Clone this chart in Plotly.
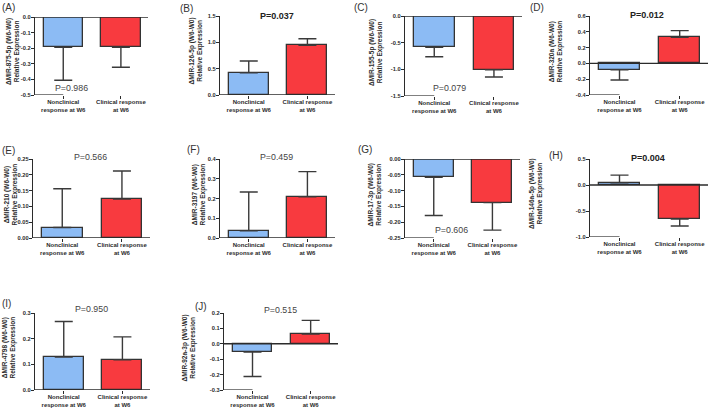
import plotly.graph_objects as go

W, H = 709, 408

panel_letters = ["(A)", "(B)", "(C)", "(D)", "(E)", "(F)", "(G)", "(H)", "(I)", "(J)"]
mirnas = ["MIR-875-5p", "MIR-126-5p", "MIR-155-5p", "MIR-320a", "MIR-210",
          "MIR-3197", "MIR-17-3p", "MIR-146a-5p", "MIR-4798", "MIR-92a-3p"]
group_labels = ["Nonclinical<br>response at W6", "Clinical response<br>at W6"]
nonclin_mean = [-0.195, 0.423, -0.587, -0.08, 0.033, 0.036, -0.058, 0.044, 0.128, -0.053]
nonclin_err = [0.21, 0.223, 0.176, 0.13, 0.123, 0.197, 0.121, 0.146, 0.139, 0.159]
clin_mean = [-0.194, 0.944, -1.007, 0.33, 0.123, 0.209, -0.138, -0.654, 0.118, 0.063]
clin_err = [0.128, 0.125, 0.137, 0.085, 0.089, 0.127, 0.087, 0.134, 0.089, 0.089]
p_texts = ["P=0.986", "P=0.037", "P=0.079", "P=0.012", "P=0.566",
           "P=0.459", "P=0.606", "P=0.004", "P=0.950", "P=0.515"]
p_bold = [False, True, False, True, False, False, False, True, False, False]
y_ranges = [(-0.5, 0), (0, 1.5), (-1.5, 0), (-0.4, 0.6), (0, 0.25),
            (0, 0.4), (-0.25, 0), (-1.0, 0.5), (0, 0.3), (-0.3, 0.2)]
y_steps = [0.1, 0.5, 0.5, 0.2, 0.05, 0.1, 0.05, 0.5, 0.1, 0.1]
y_decimals = [1, 1, 1, 1, 2, 1, 2, 1, 1, 1]

# layout (pixel boxes: x0, x1, ytop, ybot)
boxes = [(35, 148, 17, 95), (220, 335, 16, 95), (405, 522, 16, 96), (590, 708, 16, 95),
         (33, 150, 159, 238), (220, 335, 159, 238), (405, 520, 159, 238), (590, 708, 159, 237),
         (35, 150, 313, 390), (224, 338, 313, 390)]
# y-axis title block centers (pixels)
title_x = [13, 195, 376, 555, 10, 198, 374, 536, 8, 188]
# p-value annotation positions (x in category units, y in pixel)
p_pos = [(0.15, 88), (0.48, 16), (0.25, 88), (0.45, 15), (0.48, 157),
         (0.48, 157), (0.3, 230), (0.48, 158), (0.48, 309), (0.48, 310)]
letter_pos = [(0, 7), (178, 8), (352, 7), (528, 7), (0, 150), (185, 149),
              (356, 149), (547, 155), (0, 303), (193, 306)]

BLUE = "#8CBBF4"
RED = "#F83A3F"
DARK = "#2b2b2b"
FONT = "Liberation Sans, Arial, sans-serif"
XR = (-0.49, 1.47)

fig = go.Figure()
layout = dict(width=W, height=H, margin=dict(l=0, r=0, t=0, b=0, autoexpand=False),
              paper_bgcolor="white", plot_bgcolor="white", showlegend=False,
              font=dict(family=FONT, color=DARK), bargap=0)
shapes = []
annotations = []

def fmt(v, d):
    s = f"{v:.{d}f}"
    if s.startswith("-") and float(s) == 0:
        s = s[1:]
    return s

for i in range(10):
    k = "" if i == 0 else str(i + 1)
    xa, ya = "x" + k, "y" + k
    x0, x1, yt, yb = boxes[i]
    lo, hi = y_ranges[i]
    means = [nonclin_mean[i], clin_mean[i]]
    errs = [nonclin_err[i], clin_err[i]]
    plus = [e if m >= 0 else 0 for m, e in zip(means, errs)]
    minus = [e if m < 0 else 0 for m, e in zip(means, errs)]
    fig.add_trace(go.Bar(
        x=[0, 1], y=means, xaxis=xa, yaxis=ya, width=0.68,
        marker=dict(color=[BLUE, RED], line=dict(color="#333333", width=1.3)),
        error_y=dict(type="data", symmetric=False, array=plus, arrayminus=minus,
                     color="#3a3a3a", thickness=1.4, width=9),
        hoverinfo="skip"))
    n = int(round((hi - lo) / y_steps[i]))
    tv = [lo + j * y_steps[i] for j in range(n + 1)]
    tt = [fmt(v, y_decimals[i]) for v in tv]
    layout["xaxis" + k] = dict(
        domain=[x0 / W, x1 / W], anchor=ya, range=list(XR), tickvals=[0, 1],
        ticktext=group_labels, ticks="outside", ticklen=3, tickwidth=1.2,
        tickcolor=DARK, showline=False, showgrid=False, zeroline=False,
        tickangle=0, automargin=False, ticklabelstandoff=-2,
        tickfont=dict(size=6, weight="bold", family=FONT, color=DARK), fixedrange=True)
    layout["yaxis" + k] = dict(
        domain=[1 - yb / H, 1 - yt / H], anchor=xa, range=[lo, hi],
        tickvals=tv, ticktext=tt, ticks="outside", ticklen=3, tickwidth=1.2,
        tickcolor=DARK, showline=True, linecolor=DARK, linewidth=1.4,
        showgrid=False, zeroline=False, automargin=False, ticklabelstandoff=-1,
        tickfont=dict(size=5.7, weight="bold", family=FONT, color=DARK),
        fixedrange=True)
    # y-axis title as rotated annotation
    annotations.append(dict(
        xref="paper", yref="paper", x=title_x[i] / W, y=1 - ((yt + yb) / 2 - 4) / H,
        text="\u0394" + mirnas[i] + " (W6-W0)<br>Relative Expression", textangle=-90,
        showarrow=False, xanchor="center", yanchor="middle",
        font=dict(size=6.5, weight="bold", family=FONT, color=DARK)))
    # zero line across full width
    shapes.append(dict(type="line", xref=xa, yref=ya, x0=XR[0], x1=XR[1], y0=0, y1=0,
                       line=dict(color=DARK, width=1.4), layer="above"))
    if lo < 0:
        shapes.append(dict(type="line", xref=xa, yref=ya, x0=XR[0], x1=0, y0=lo, y1=lo,
                           line=dict(color=DARK, width=1.2), layer="above"))
    px, py = p_pos[i]
    txt = "<b>" + p_texts[i] + "</b>" if p_bold[i] else p_texts[i]
    annotations.append(dict(xref=xa, yref="paper", x=px, y=1 - py / H, text=txt,
                            showarrow=False, xanchor="center", yanchor="middle",
                            font=dict(size=9 if p_bold[i] else 8.8, family=FONT,
                                      color="#222" if p_bold[i] else "#444")))
    lx, ly = letter_pos[i]
    annotations.append(dict(xref="paper", yref="paper", x=lx / W, y=1 - ly / H,
                            text=panel_letters[i], showarrow=False, xanchor="left",
                            yanchor="middle", font=dict(size=10, family=FONT, color="#333")))

layout["shapes"] = shapes
layout["annotations"] = annotations
fig.update_layout(**layout)
fig.write_html("out.html", config={"displayModeBar": False},
               post_script="document.body.style.margin='0';document.body.style.overflow='hidden';")
